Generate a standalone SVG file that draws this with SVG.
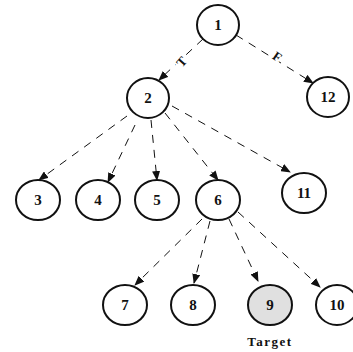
<svg xmlns="http://www.w3.org/2000/svg" width="353" height="352" viewBox="0 0 353 352">
<style>
.n ellipse{fill:#fff;stroke:#111;stroke-width:2}
.n text{font-family:"Liberation Serif",serif;font-weight:bold;font-size:15px;fill:#111;text-anchor:middle}
.e line{stroke:#111;stroke-width:1;stroke-dasharray:8,7;marker-end:url(#ah)}
.lbl{font-family:"Liberation Serif",serif;font-weight:bold;font-size:13px;fill:#111;text-anchor:middle}
.edge-lbl{paint-order:stroke;stroke:#fff;stroke-width:4px}
</style>
<defs>
<marker id="ah" markerWidth="10" markerHeight="8" refX="9" refY="4" orient="auto" markerUnits="userSpaceOnUse">
<path d="M0,0 L10,4 L0,8 Z" fill="#111"/>
</marker>
</defs>
<g id="connectors" class="e">
<line x1="203" y1="39" x2="159" y2="80"/>
<line x1="236" y1="35" x2="313" y2="83"/>
<line x1="127" y1="116" x2="39" y2="180"/>
<line x1="135" y1="125" x2="108" y2="182"/>
<line x1="151" y1="120" x2="157" y2="180"/>
<line x1="165" y1="113" x2="218" y2="180"/>
<line x1="172" y1="106" x2="290" y2="172"/>
<line x1="202" y1="219" x2="135" y2="285"/>
<line x1="210" y1="221" x2="194" y2="283"/>
<line x1="229" y1="219" x2="258" y2="281"/>
<line x1="238" y1="212" x2="320" y2="287"/>
</g>
<text class="lbl edge-lbl" x="182" y="66" transform="rotate(-48 182 62)">T</text>
<text class="lbl edge-lbl" x="277" y="61" transform="rotate(35 277 57)">F</text>
<g id="n1" class="n"><ellipse cx="218" cy="25" rx="21" ry="20"/><text x="218" y="30">1</text></g>
<g id="n2" class="n"><ellipse cx="148" cy="98" rx="21" ry="20"/><text x="148" y="103">2</text></g>
<g id="n12" class="n"><ellipse cx="328" cy="97" rx="21" ry="20"/><text x="328" y="102">12</text></g>
<g id="n3" class="n"><ellipse cx="38" cy="200" rx="22" ry="20"/><text x="38" y="205">3</text></g>
<g id="n4" class="n"><ellipse cx="98" cy="200" rx="22" ry="20"/><text x="98" y="205">4</text></g>
<g id="n5" class="n"><ellipse cx="157" cy="200" rx="22" ry="20"/><text x="157" y="205">5</text></g>
<g id="n6" class="n"><ellipse cx="218" cy="200" rx="22" ry="20"/><text x="218" y="205">6</text></g>
<g id="n11" class="n"><ellipse cx="304" cy="193" rx="22" ry="20"/><text x="304" y="198">11</text></g>
<g id="n7" class="n"><ellipse cx="125" cy="305" rx="22" ry="20"/><text x="125" y="310">7</text></g>
<g id="n8" class="n"><ellipse cx="193" cy="305" rx="22" ry="20"/><text x="193" y="310">8</text></g>
<g id="n9" class="n"><ellipse cx="270" cy="305" rx="22" ry="20" style="fill:#e0e0e0"/><text x="270" y="310">9</text></g>
<g id="n10" class="n"><ellipse cx="337" cy="305" rx="21" ry="20"/><text x="337" y="310">10</text></g>
<text class="lbl" x="270" y="346" style="letter-spacing:1.5px">Target</text>
</svg>
